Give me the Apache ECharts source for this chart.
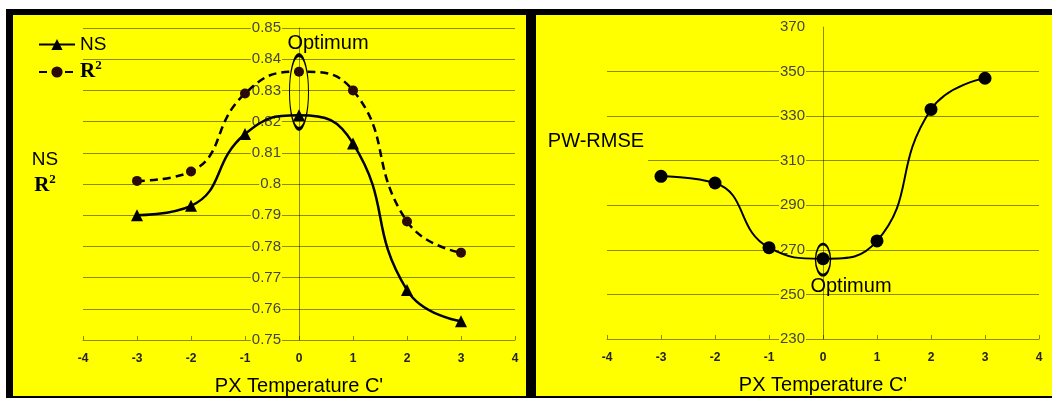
<!DOCTYPE html>
<html>
<head>
<meta charset="utf-8">
<script src="https://cdn.jsdelivr.net/npm/echarts@6/dist/echarts.min.js"></script>
<style>html,body{margin:0;padding:0;background:#fff}#c{width:1052px;height:401px}</style>
</head>
<body>
<div id="c"></div>
<script>
// ---- data ----
const temps = [-3, -2, -1, 0, 1, 2, 3];
const nsValues = [0.790, 0.793, 0.816, 0.822, 0.813, 0.766, 0.756];
const r2Values = [0.801, 0.804, 0.829, 0.836, 0.830, 0.788, 0.778];
const pwRmseValues = [303, 300, 271, 266, 274, 333, 347];
const optimumLeft = [0, 0.8295];
const optimumRight = [0, 265.6];
const xTicks = { min: -4, max: 4, interval: 1 };
const leftY = { min: 0.75, max: 0.85, interval: 0.01 };
const rightY = { min: 230, max: 370, interval: 20 };

const pairs = (xs, ys) => xs.map((x, i) => [x, ys[i]]);
const YEL = '#ffff00';
const GRID = 'rgba(0,0,0,0.45)';
const SANS = 'Liberation Sans, Arial, sans-serif';
const SERIF = 'Liberation Serif, Times New Roman, serif';
const ellipsePath = 'path://M0,50 A50,50 0 1,1 100,50 A50,50 0 1,1 0,50 Z';
const GRID_W = 432;

function xAxisCfg(gridIndex) {
  return {
    type: 'value', gridIndex, min: xTicks.min, max: xTicks.max, interval: xTicks.interval,
    axisLine: { onZero: false, lineStyle: { color: GRID, width: 1 } },
    axisTick: { show: true, inside: true, length: 4, lineStyle: { color: GRID } },
    splitLine: { show: false },
    axisLabel: { margin: 13, fontFamily: SANS, fontWeight: 'bold', fontSize: 12, color: '#222' },
    name: "PX Temperature C'", nameLocation: 'middle', nameGap: 36,
    nameTextStyle: { fontFamily: SANS, fontSize: 20, color: '#000' }
  };
}
function yAxisCfg(gridIndex, r, showMax) {
  return {
    type: 'value', gridIndex, min: r.min, max: r.max, interval: r.interval,
    position: 'left', offset: -GRID_W / 2,
    axisLine: { onZero: false, lineStyle: { color: GRID, width: 1 } },
    axisTick: { show: false },
    splitLine: { show: true, showMinLine: false, showMaxLine: showMax, lineStyle: { color: GRID, width: 1 } },
    axisLabel: { margin: 17, fontFamily: SANS, fontSize: 15, color: '#444', backgroundColor: YEL, padding: [0, 1] }
  };
}
const supRich = (fillKey) => ({
  r: { fontFamily: SERIF, fontWeight: 'bold', fontSize: 21, lineHeight: 26, [fillKey]: '#000' },
  s: { fontFamily: SERIF, fontWeight: 'bold', fontSize: 13, lineHeight: 13, verticalAlign: 'top', [fillKey]: '#000' }
});

const chart = echarts.init(document.getElementById('c'), null, { renderer: 'canvas' });
chart.setOption({
  backgroundColor: '#fff',
  animation: false,
  graphic: [
    { type: 'rect', z: -100, shape: { x: 6, y: 9, width: 1046, height: 389 }, style: { fill: '#000' }, silent: true },
    { type: 'rect', z: -99, shape: { x: 13, y: 15, width: 513, height: 381 }, style: { fill: YEL }, silent: true },
    { type: 'rect', z: -99, shape: { x: 536, y: 15, width: 516, height: 381 }, style: { fill: YEL }, silent: true },
    { type: 'rect', z: 50, shape: { x: 600, y: 156, width: 48, height: 9 }, style: { fill: YEL }, silent: true },
    { type: 'text', z: 60, x: 45, y: 160, style: { text: 'NS', fontFamily: SANS, fontSize: 19, fill: '#000', align: 'center', verticalAlign: 'middle' } },
    { type: 'text', z: 60, x: 45, y: 186, style: { text: '{r|R}{s|2}', align: 'center', verticalAlign: 'middle', rich: supRich('fill') } },
    { type: 'text', z: 60, x: 596, y: 141, style: { text: 'PW-RMSE', fontFamily: SANS, fontSize: 20, fill: '#000', align: 'center', verticalAlign: 'middle' } },
    { type: 'text', z: 60, x: 328, y: 43, style: { text: 'Optimum', fontFamily: SANS, fontSize: 20, fill: '#000', align: 'center', verticalAlign: 'middle' } },
    { type: 'text', z: 60, x: 851, y: 286, style: { text: 'Optimum', fontFamily: SANS, fontSize: 20, fill: '#000', align: 'center', verticalAlign: 'middle' } }
  ],
  legend: {
    orient: 'vertical', left: 38, top: 35, padding: 0, itemWidth: 36, itemHeight: 14, itemGap: 5,
    data: ['NS', 'R2'],
    formatter: n => n === 'R2' ? '{r|R}{s|2}' : '{n|NS}',
    textStyle: {
      rich: Object.assign({ n: { fontFamily: SANS, fontSize: 19, lineHeight: 24, color: '#000' } }, supRich('color'))
    }
  },
  grid: [
    { left: 83, top: 28, width: GRID_W, height: 315 },
    { left: 607, top: 27, width: GRID_W, height: 312 }
  ],
  xAxis: [xAxisCfg(0), xAxisCfg(1)],
  yAxis: [yAxisCfg(0, leftY, true), yAxisCfg(1, rightY, false)],
  series: [
    {
      name: 'NS', type: 'line', xAxisIndex: 0, yAxisIndex: 0, data: pairs(temps, nsValues),
      smooth: 0.5, symbol: 'triangle', symbolSize: 12, z: 3,
      itemStyle: { color: '#000' }, lineStyle: { color: '#000', width: 2.5 },
      markPoint: {
        symbol: ellipsePath, symbolSize: [19, 74], silent: true,
        itemStyle: { color: 'rgba(0,0,0,0)', borderColor: '#000', borderWidth: 2 },
        label: { show: false },
        data: [{ coord: optimumLeft }]
      }
    },
    {
      name: 'R2', type: 'line', xAxisIndex: 0, yAxisIndex: 0, data: pairs(temps, r2Values),
      smooth: 0.5, symbol: 'circle', symbolSize: 10, z: 3,
      itemStyle: { color: '#2a0a0a' }, lineStyle: { color: '#000', width: 2.5, type: [8, 5] }
    },
    {
      name: 'PW-RMSE', type: 'line', xAxisIndex: 1, yAxisIndex: 1, data: pairs(temps, pwRmseValues),
      smooth: 0.5, symbol: 'circle', symbolSize: 13, z: 3,
      itemStyle: { color: '#000' }, lineStyle: { color: '#000', width: 2 },
      markPoint: {
        symbol: ellipsePath, symbolSize: [15, 31], silent: true,
        itemStyle: { color: 'rgba(0,0,0,0)', borderColor: '#000', borderWidth: 2 },
        label: { show: false },
        data: [{ coord: optimumRight }]
      }
    }
  ]
});
</script>
</body>
</html>
